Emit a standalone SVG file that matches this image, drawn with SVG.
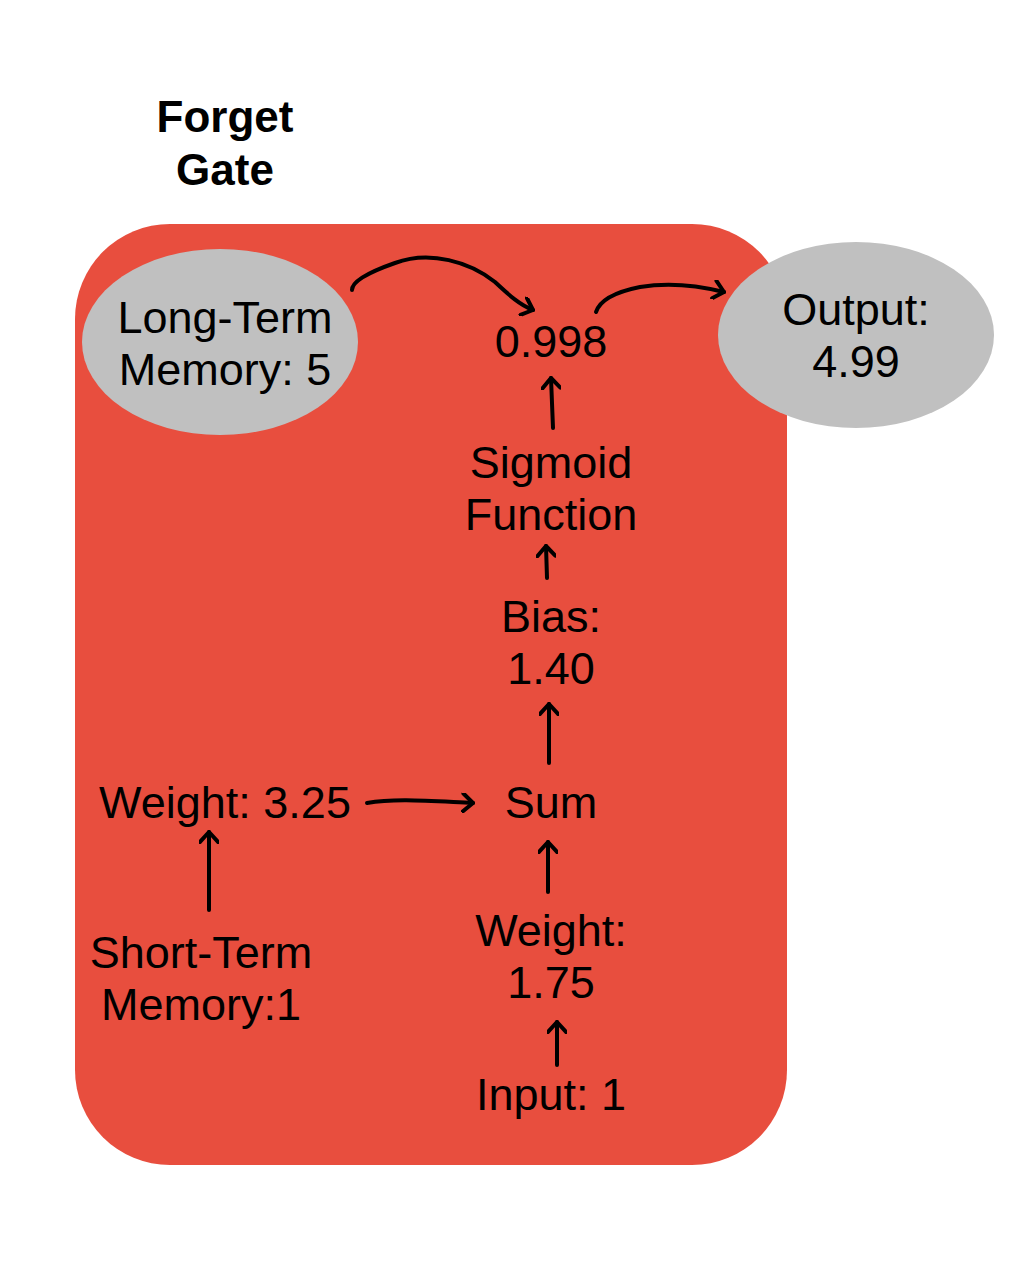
<svg xmlns="http://www.w3.org/2000/svg" width="1016" height="1263" viewBox="0 0 1016 1263">
<defs>
<style>
.t{font-family:"Liberation Sans",Arial,sans-serif;font-size:45px;fill:#000;text-anchor:middle}
.b{font-weight:bold;font-size:44px}
.c{fill:none;stroke:#000;stroke-width:4;stroke-linecap:round;stroke-linejoin:round}
.oval{fill:#C0C0C0}
</style>
<marker id="ah" viewBox="-12 -10 14 20" markerWidth="14" markerHeight="20" refX="0" refY="0" orient="auto" markerUnits="userSpaceOnUse">
<path d="M-10,-9 L0,0 L-10,9" fill="none" stroke="#000" stroke-width="4" stroke-linecap="round" stroke-linejoin="round"/>
</marker>
</defs>
<rect width="1016" height="1263" fill="#fff"/>
<g id="title">
<text class="t b" x="225" y="132">Forget</text>
<text class="t b" x="225" y="185">Gate</text>
</g>
<g id="gate">
<rect x="75" y="224" width="712" height="941" rx="95" ry="95" fill="#E84E3E"/>
</g>
<g id="long-term-memory">
<ellipse class="oval" cx="220" cy="342" rx="138" ry="93"/>
<text class="t" x="225" y="333">Long-Term</text>
<text class="t" x="225" y="385">Memory: 5</text>
</g>
<g id="output">
<ellipse class="oval" cx="856" cy="335" rx="138" ry="93"/>
<text class="t" x="856" y="325">Output:</text>
<text class="t" x="856" y="377">4.99</text>
</g>
<g id="result">
<text class="t" x="551" y="357">0.998</text>
</g>
<g id="sigmoid">
<text class="t" x="551" y="478">Sigmoid</text>
<text class="t" x="551" y="530">Function</text>
</g>
<g id="bias">
<text class="t" x="551" y="632">Bias:</text>
<text class="t" x="551" y="684">1.40</text>
</g>
<g id="sum">
<text class="t" x="551" y="818">Sum</text>
</g>
<g id="weight-stm">
<text class="t" x="225" y="818">Weight: 3.25</text>
</g>
<g id="short-term-memory">
<text class="t" x="201" y="968">Short-Term</text>
<text class="t" x="201" y="1020">Memory:1</text>
</g>
<g id="weight-input">
<text class="t" x="551" y="946">Weight:</text>
<text class="t" x="551" y="998">1.75</text>
</g>
<g id="input">
<text class="t" x="551" y="1110">Input: 1</text>
</g>
<g id="connectors">
<path class="c" d="M352,290 C352,280 375,270 395,263 C430,250 470,262 495,282 C510,296 520,305 533,310" marker-end="url(#ah)"/>
<path class="c" d="M596,312 C600,300 615,292 640,287 C670,282 700,286 724,292" marker-end="url(#ah)"/>
<path class="c" d="M553,428 L551,378" marker-end="url(#ah)"/>
<path class="c" d="M547,578 L546,546" marker-end="url(#ah)"/>
<path class="c" d="M549,763 L549,704" marker-end="url(#ah)"/>
<path class="c" d="M548,892 L548,842" marker-end="url(#ah)"/>
<path class="c" d="M557,1065 L557,1022" marker-end="url(#ah)"/>
<path class="c" d="M209,910 L209,832" marker-end="url(#ah)"/>
<path class="c" d="M367,803 C395,798 430,801 473,803" marker-end="url(#ah)"/>
</g>
</svg>
